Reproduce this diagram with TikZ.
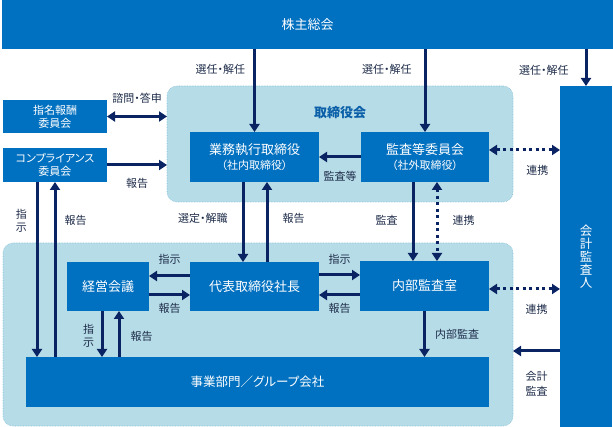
\documentclass[tikz,border=0pt]{standalone}
\usepackage{fontspec}
\setmainfont{Noto Sans CJK JP}[RawFeature=+palt]
\usepackage{tikz}
\usepackage{xcolor}
\usetikzlibrary{positioning, arrows.meta}

\definecolor{boxblue}{HTML}{0070C0}
\definecolor{panelblue}{HTML}{B6DCE7}
\definecolor{paneledge}{HTML}{86C0DA}
\definecolor{arrowblue}{HTML}{0A2463}
\definecolor{labelgray}{HTML}{1F2D4A}
\definecolor{titleblue}{HTML}{0A5FA8}

\begin{document}
\begin{tikzpicture}[x=1pt, y=-1pt,
    box/.style={fill=boxblue, text=white, inner sep=0pt, outer sep=0pt, align=center, font=\fontsize{13}{15}\selectfont},
    panel/.style={fill=panelblue, draw=paneledge, line width=0.6pt, densely dotted, rounded corners=10pt, inner sep=0pt, outer sep=0pt},
    lbl/.style={text=labelgray, font=\fontsize{11}{13}\selectfont, inner sep=0pt, align=center},
    arr/.style={draw=arrowblue, line width=3pt, -{Triangle[length=8pt,width=10pt]}},
    darr/.style={arr, {Triangle[length=8pt,width=10pt]}-{Triangle[length=8pt,width=10pt]}},
    dotarr/.style={darr, dash pattern=on 3pt off 3.5pt}]
        \useasboundingbox (0,0) rectangle (613,427);

        % panels
        \node[panel, minimum width=346pt, minimum height=116pt] (board) at (340,144) {};
        \node[panel, minimum width=510pt, minimum height=183pt] (group) at (258,334.5) {};
        \node[text=titleblue, inner sep=0pt, font=\bfseries\fontsize{13}{15}\selectfont] (boardtitle) at (340,113) {取締役会};

        % boxes
        \node[box, minimum width=611pt, minimum height=49pt] (kabu) at (307.5,24.5) {株主総会};
        \node[box, minimum width=104pt, minimum height=33pt, font=\fontsize{11}{13}\selectfont] (shimei) at (55,116.5) {指名報酬\\委員会};
        \node[box, minimum width=104pt, minimum height=34pt, font=\fontsize{11}{13.5}\selectfont] (comp) at (55,165) {コンプライアンス\\委員会};
        \node[box, minimum width=129pt, minimum height=50pt] (gyomu) at (254.5,157) {業務執行取締役\\{\fontsize{11}{13}\selectfont （社内取締役）}};
        \node[box, minimum width=128pt, minimum height=50pt] (kansa) at (425,157) {監査等委員会\\{\fontsize{11}{13}\selectfont （社外取締役）}};
        \node[box, minimum width=52pt, minimum height=341pt, font=\fontsize{12.5}{13}\selectfont] (kaikei) at (586,256.5) {会\\計\\監\\査\\人};
        \node[box, minimum width=82pt, minimum height=49pt] (keiei) at (108,286.5) {経営会議};
        \node[box, minimum width=129pt, minimum height=49pt] (shacho) at (254.5,286.5) {代表取締役社長};
        \node[box, minimum width=129pt, minimum height=50pt] (naibu) at (424.5,286) {内部監査室};
        \node[box, minimum width=463pt, minimum height=50pt, font=\fontsize{12.5}{15}\selectfont] (jigyo) at (257.5,382) {事業部門／グループ会社};

        % shareholders
        \draw[arr] (kabu.south -| gyomu.north) -- node[lbl, pos=0.25, left=8pt] {選任・解任} (gyomu.north);
        \draw[arr] (kabu.south -| kansa.north) -- node[lbl, pos=0.25, left=12pt] {選任・解任} (kansa.north);
        \draw[arr] (kabu.south -| kaikei.north) -- node[lbl, pos=0.57, left=16pt] {選任・解任} (kaikei.north);

        % committees
        \draw[darr] (shimei.east) -- node[lbl, above=12pt] {諮問・答申} (shimei.east -| board.west);
        \draw[arr] (comp.east) -- node[lbl, below=12pt] {報告} (comp.east -| board.west);
        \draw[arr] ([xshift=-18pt]comp.south) -- node[lbl, pos=0.22, left=8.5pt, font=\fontsize{11}{13}\selectfont] {指\\示} ([xshift=-18pt]comp.south |- jigyo.north);
        \draw[arr] (jigyo.north -| comp.south) -- node[lbl, pos=0.78, right=8pt] {報告} (comp.south);

        % board
        \draw[arr] (kansa.west) -- node[lbl, below=13pt] {監査等} (gyomu.east);
        \draw[dotarr] ([yshift=7pt]kansa.east) -- node[lbl, pos=0.68, below=14pt] {連携} ([yshift=7pt]kansa.east -| kaikei.west);
        \draw[arr] ([xshift=-11.5pt]gyomu.south) -- node[lbl, pos=0.45, left=14pt] {選定・解職} ([xshift=-11.5pt]shacho.north);
        \draw[arr] ([xshift=12.5pt]shacho.north) -- node[lbl, pos=0.55, right=14pt] {報告} ([xshift=12.5pt]gyomu.south);
        \draw[arr] ([xshift=-12pt]kansa.south) -- node[lbl, pos=0.48, left=14pt] {監査} ([xshift=-12pt]kansa.south |- naibu.north);
        \draw[dotarr] ([xshift=12pt]kansa.south) -- node[lbl, pos=0.48, right=14pt] {連携} ([xshift=12pt]kansa.south |- naibu.north);

        % execution
        \draw[arr] ([yshift=10.5pt]shacho.west) -- node[lbl, above=10.5pt] {指示} ([yshift=10.5pt]shacho.west -| keiei.east);
        \draw[arr] ([yshift=-8.5pt]keiei.east) -- node[lbl, below=6.5pt] {報告} ([yshift=-8.5pt]keiei.east -| shacho.west);
        \draw[arr] ([yshift=11.5pt]shacho.east) -- node[lbl, above=9.5pt] {指示} ([yshift=11.5pt]shacho.east -| naibu.west);
        \draw[arr] ([yshift=-9pt]naibu.west) -- node[lbl, below=6.5pt] {報告} ([yshift=-9pt]naibu.west -| shacho.east);
        \draw[dotarr] ([yshift=-3pt]naibu.east) -- node[lbl, pos=0.67, below=13.5pt] {連携} ([yshift=-3pt]naibu.east -| kaikei.west);
        \draw[arr] (naibu.south) -- node[lbl, right=9pt] {内部監査} (naibu.south |- jigyo.north);
        \draw[arr] ([yshift=-94.5pt]kaikei.west) -- node[lbl, below=18.5pt, font=\fontsize{11}{15}\selectfont] {会計\\監査} ([yshift=-94.5pt]kaikei.west -| group.east);
        \draw[arr] ([xshift=-6pt]keiei.south) -- node[lbl, pos=0.55, left=6.5pt, font=\fontsize{11}{13}\selectfont] {指\\示} ([xshift=-6pt]keiei.south |- jigyo.north);
        \draw[arr] ([xshift=11pt]keiei.south |- jigyo.north) -- node[lbl, pos=0.45, right=10pt] {報告} ([xshift=11pt]keiei.south);
    \end{tikzpicture}
\end{document}
